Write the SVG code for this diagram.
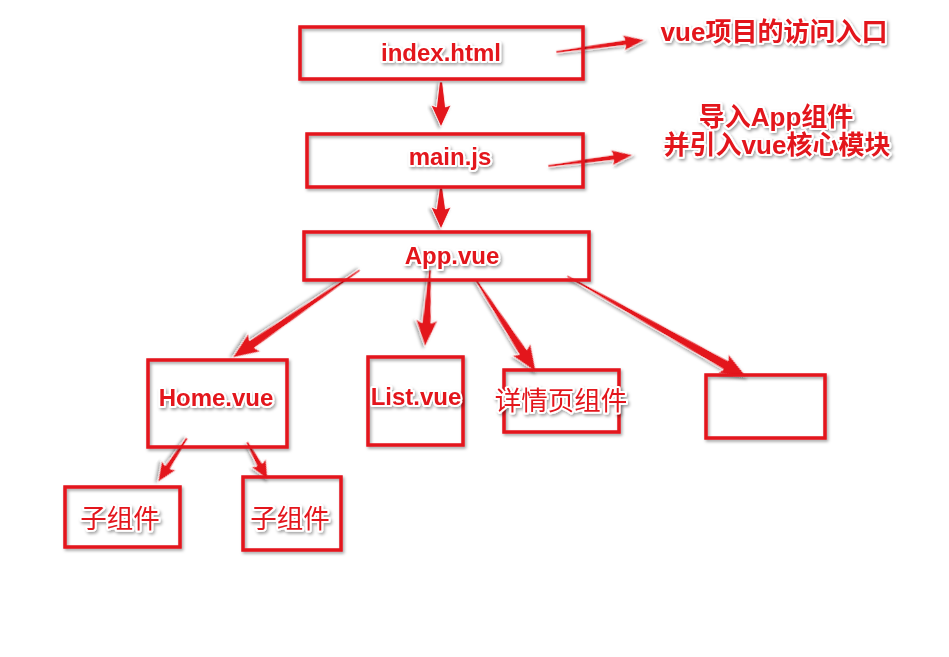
<svg xmlns="http://www.w3.org/2000/svg" width="949" height="657" viewBox="0 0 949 657">
<defs>
<filter id="sh" x="-20%" y="-20%" width="140%" height="140%">
<feDropShadow dx="1.5" dy="2" stdDeviation="1.5" flood-color="#000" flood-opacity="0.35"/>
</filter>
<style>
.box{fill:none;stroke:#e3141b;stroke-width:3.5;filter:url(#sh)}
.t{fill:#e3141b;stroke:#fff;stroke-width:4;paint-order:stroke;stroke-linejoin:round;font-family:"Liberation Sans","Noto Sans CJK SC",sans-serif;font-weight:bold;text-anchor:middle;filter:url(#sh)}
.c{font-weight:normal;font-family:"Noto Sans CJK SC",sans-serif}
.a{fill:#e3141b;stroke:#fff;stroke-width:0.8;stroke-linejoin:round;filter:url(#sh)}
</style>
</defs>
<rect width="949" height="657" fill="#fff"/>
<g id="connectors">
<polygon class="a" transform="translate(441,82) rotate(90)" points="0,-1.5 25,-4.5 23,-10 45,0 23,10 25,4.5 0,1.5"/>
<polygon class="a" transform="translate(441,188) rotate(90)" points="0,-1.5 21,-4.5 19,-10 41,0 19,10 21,4.5 0,1.5"/>
<polygon class="a" transform="translate(556,52) rotate(-7.7)" points="0,-1.2 70,-2.8 68,-8 90,0 68,8 70,2.8 0,1.2"/>
<polygon class="a" transform="translate(548,166) rotate(-7.4)" points="0,-1.2 66,-2.8 64,-8 86,0 64,8 66,2.8 0,1.2"/>
<polygon class="a" transform="translate(360,270) rotate(145.5)" points="0,-1 131,-4.5 128,-11 155,0 128,11 131,4.5 0,1"/>
<polygon class="a" transform="translate(430,270) rotate(93.7)" points="0,-1.2 53,-4.5 50,-11 77,0 50,11 53,4.5 0,1.2"/>
<polygon class="a" transform="translate(476,280) rotate(56.9)" points="0,-1.2 86,-4.5 83,-11 110,0 83,11 86,4.5 0,1.2"/>
<polygon class="a" transform="translate(567,276) rotate(29.3)" points="0,-1 182,-5 179,-11 206,0 179,11 182,5 0,1"/>
<polygon class="a" transform="translate(187,438) rotate(123.4)" points="0,-1.2 35,-3 33,-8.5 53,0 33,8.5 35,3 0,1.2"/>
<polygon class="a" transform="translate(247,442) rotate(61.1)" points="0,-1.2 26,-3 24,-8.5 43,0 24,8.5 26,3 0,1.2"/>
</g>
<g id="index"><rect class="box" x="300" y="27" width="283" height="52"/><text class="t" x="441" y="61" font-size="24">index.html</text></g>
<g id="main"><rect class="box" x="307" y="134" width="276" height="53"/><text class="t" x="450" y="165" font-size="24">main.js</text></g>
<g id="app"><rect class="box" x="304" y="232" width="285" height="48"/><text class="t" x="452" y="264" font-size="24">App.vue</text></g>
<g id="home"><rect class="box" x="148" y="360" width="139" height="87"/><text class="t" x="216" y="406" font-size="24">Home.vue</text></g>
<g id="list"><rect class="box" x="368" y="357" width="95" height="88"/><text class="t" x="416" y="405" font-size="24">List.vue</text></g>
<g id="detail"><rect class="box" x="504" y="370" width="115" height="62"/><text class="t c" x="561" y="410" font-size="26.5">详情页组件</text></g>
<g id="empty"><rect class="box" x="706" y="375" width="119" height="63"/></g>
<g id="child1"><rect class="box" x="65" y="487" width="115" height="60"/><text class="t c" x="120" y="528" font-size="26.5">子组件</text></g>
<g id="child2"><rect class="box" x="243" y="477" width="98" height="73"/><text class="t c" x="290" y="528" font-size="26.5">子组件</text></g>
<g id="note1"><text class="t" x="774" y="41" font-size="26">vue项目的访问入口</text></g>
<g id="note2"><text class="t" x="776" y="126" font-size="26">导入App组件</text><text class="t" x="777" y="154" font-size="26">并引入vue核心模块</text></g>
</svg>
